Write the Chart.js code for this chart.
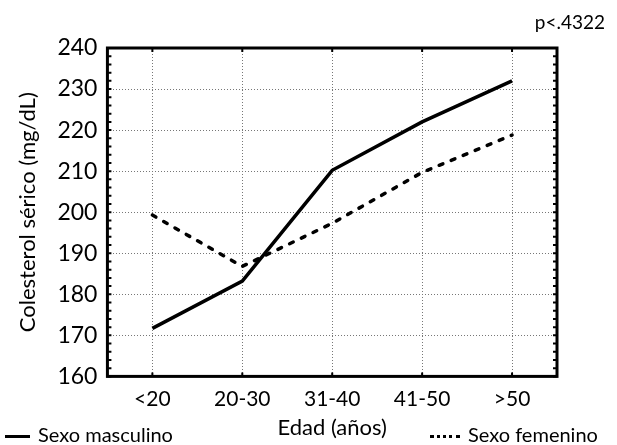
<!DOCTYPE html>
<html>
<head>
<meta charset="utf-8">
<script src="https://cdn.jsdelivr.net/npm/chart.js@4"></script>
<style>
  html, body { margin: 0; padding: 0; background: #fff; }
  #wrap { position: relative; width: 617px; height: 445px; }
  canvas { position: absolute; left: 0; top: 0; }
  .note { position: absolute; font-family: Lato, sans-serif; color: #000; white-space: nowrap; }
  .key { display: inline-block; height: 0; vertical-align: middle; margin-right: 8px; }
</style>
</head>
<body>
<div id="wrap">
  <canvas id="chart" width="617" height="445"></canvas>
  <div class="note" style="right:12px; top:10px; font-size:19px;">p&lt;.4322</div>
  <div class="note" style="left:5px; top:422px; font-size:20px;"><span class="key" style="width:25px; border-top:3px solid #000;"></span>Sexo masculino</div>
  <div class="note" style="left:430px; top:422px; font-size:20px;"><span class="key" style="width:30px; border-top:3px dotted #000;"></span>Sexo femenino</div>
</div>
<script>
const ageGroups = ["<20", "20-30", "31-40", "41-50", ">50"];
const maleValues = [171.7, 183.2, 210.2, 222, 232];
const femaleValues = [199.3, 186.8, 197.3, 209.7, 218.8];
const yTicks = [160, 170, 180, 190, 200, 210, 220, 230, 240];

const fontFamily = "Lato, sans-serif";

// frame, minor ticks on left/right borders and category marks on top/bottom
const framePlugin = {
  id: "frame",
  afterDraw(chart) {
    const ctx = chart.ctx;
    const a = chart.chartArea;
    const y = chart.scales.y;
    const x = chart.scales.x;
    ctx.save();
    ctx.strokeStyle = "#000";
    ctx.lineWidth = 3;
    ctx.strokeRect(a.left, a.top, a.right - a.left, a.bottom - a.top);
    ctx.lineWidth = 2;
    for (let v = yTicks[0]; v <= yTicks[yTicks.length - 1]; v += 2) {
      const py = y.getPixelForValue(v);
      ctx.beginPath();
      ctx.moveTo(a.left, py); ctx.lineTo(a.left + 4, py);
      ctx.moveTo(a.right, py); ctx.lineTo(a.right - 4, py);
      ctx.stroke();
    }
    ageGroups.forEach((g, i) => {
      const px = x.getPixelForValue(i);
      ctx.beginPath();
      ctx.moveTo(px, a.top); ctx.lineTo(px, a.top + 4);
      ctx.moveTo(px, a.bottom); ctx.lineTo(px, a.bottom - 4);
      ctx.stroke();
    });
    ctx.restore();
  }
};

new Chart(document.getElementById("chart"), {
  type: "line",
  data: {
    labels: ageGroups,
    datasets: [
      {
        label: "Sexo masculino",
        data: maleValues,
        borderColor: "#000",
        borderWidth: 3.5,
        pointRadius: 0,
        tension: 0
      },
      {
        label: "Sexo femenino",
        data: femaleValues,
        borderColor: "#000",
        borderWidth: 3.5,
        borderDash: [4, 9],
        borderCapStyle: "round",
        pointRadius: 0,
        tension: 0
      }
    ]
  },
  options: {
    responsive: false,
    animation: false,
    layout: { padding: { top: 48, right: 60, bottom: 4, left: 9 } },
    plugins: {
      legend: { display: false },
      tooltip: { enabled: false }
    },
    scales: {
      x: {
        offset: true,
        grid: { offset: false, color: "#777", lineWidth: 1, drawTicks: false },
        border: { display: false, dash: [1, 2] },
        ticks: { color: "#000", padding: 10, font: { family: fontFamily, size: 21 } },
        title: { display: true, text: "Edad (años)", color: "#000", padding: { top: -7, bottom: 0 }, font: { family: fontFamily, size: 22 } }
      },
      y: {
        min: 160,
        max: 240,
        afterBuildTicks(scale) {
          scale.ticks = yTicks.map((v) => ({ value: v }));
        },
        grid: { color: "#777", lineWidth: 1, drawTicks: false },
        border: { display: false, dash: [1, 2] },
        ticks: { color: "#000", padding: 10, font: { family: fontFamily, size: 23 } },
        title: { display: true, text: "Colesterol sérico (mg/dL)", color: "#000", padding: 6, font: { family: fontFamily, size: 22 } }
      }
    }
  },
  plugins: [framePlugin]
});
</script>
</body>
</html>
